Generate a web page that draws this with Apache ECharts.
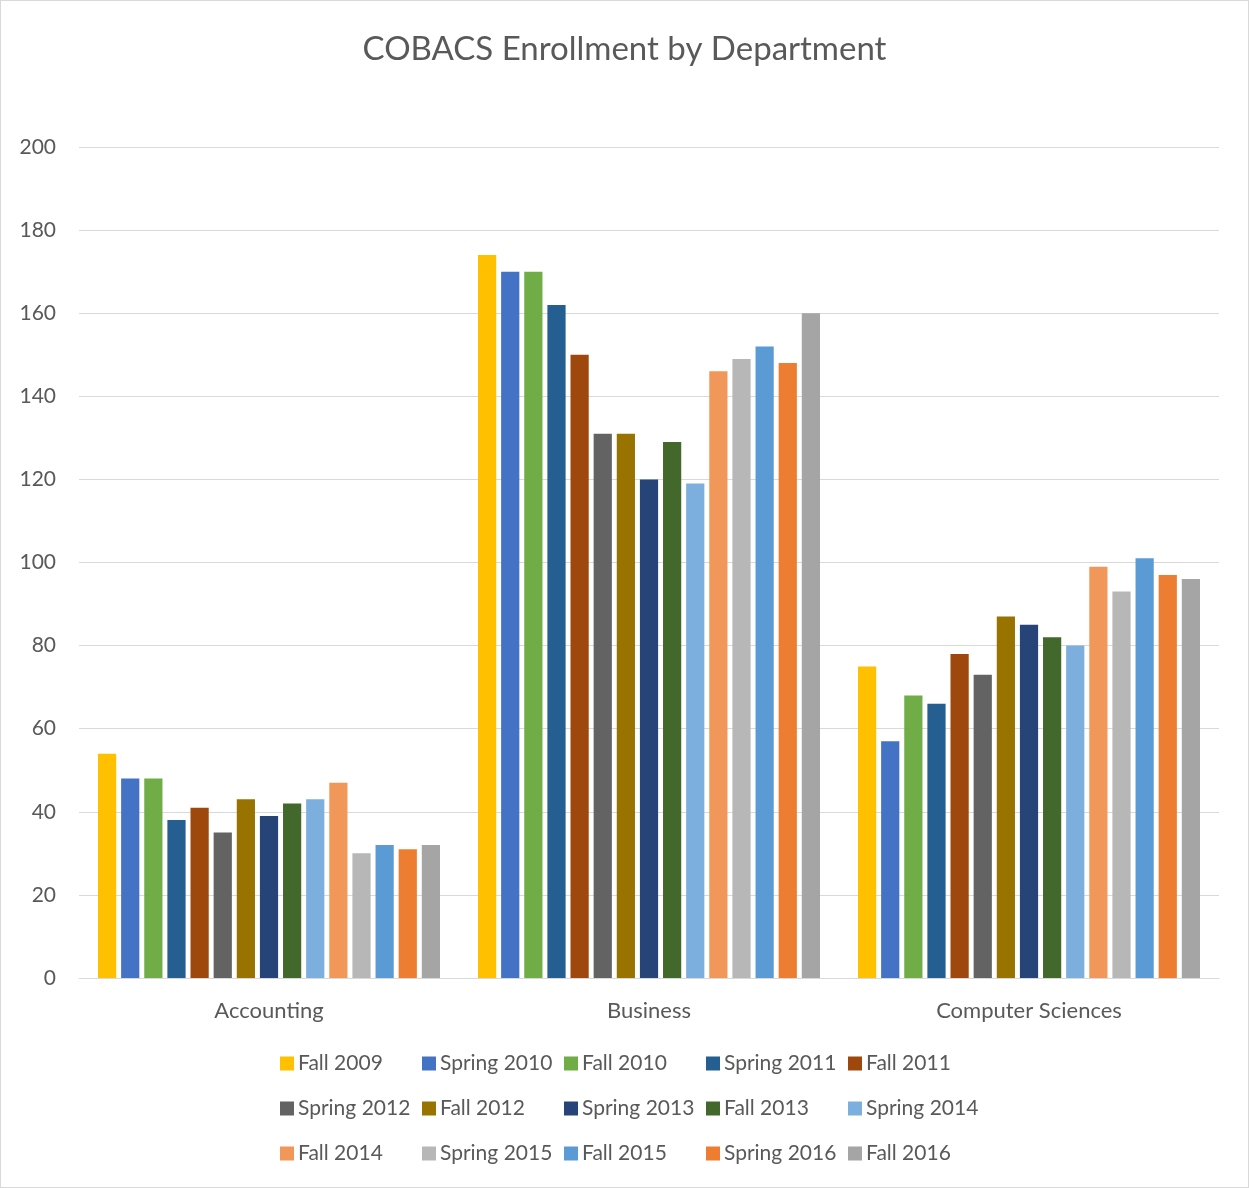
<!DOCTYPE html>
<html>
<head>
<meta charset="utf-8">
<title>COBACS Enrollment by Department</title>
<script src="https://cdn.jsdelivr.net/npm/echarts@6/dist/echarts.min.js"></script>
<style>
  html, body { margin: 0; padding: 0; background: #fff; }
  #chart { width: 1249px; height: 1188px; box-sizing: border-box; border: 1px solid #d9d9d9; }
</style>
</head>
<body>
<div id="chart"></div>
<script>
// departments on the x axis
const departments = ['Accounting', 'Business', 'Computer Sciences'];

// one list per term: [Accounting, Business, Computer Sciences]
const fall2009 = [54, 174, 75];
const spring2010 = [48, 170, 57];
const fall2010 = [48, 170, 68];
const spring2011 = [38, 162, 66];
const fall2011 = [41, 150, 78];
const spring2012 = [35, 131, 73];
const fall2012 = [43, 131, 87];
const spring2013 = [39, 120, 85];
const fall2013 = [42, 129, 82];
const spring2014 = [43, 119, 80];
const fall2014 = [47, 146, 99];
const spring2015 = [30, 149, 93];
const fall2015 = [32, 152, 101];
const spring2016 = [31, 148, 97];
const fall2016 = [32, 160, 96];

const terms = [
  ['Fall 2009', fall2009, '#FFC000'],
  ['Spring 2010', spring2010, '#4472C4'],
  ['Fall 2010', fall2010, '#70AD47'],
  ['Spring 2011', spring2011, '#255E91'],
  ['Fall 2011', fall2011, '#9E480E'],
  ['Spring 2012', spring2012, '#636363'],
  ['Fall 2012', fall2012, '#997300'],
  ['Spring 2013', spring2013, '#264478'],
  ['Fall 2013', fall2013, '#43682B'],
  ['Spring 2014', spring2014, '#7CAFDD'],
  ['Fall 2014', fall2014, '#F1975A'],
  ['Spring 2015', spring2015, '#B7B7B7'],
  ['Fall 2015', fall2015, '#5B9BD5'],
  ['Spring 2016', spring2016, '#ED7D31'],
  ['Fall 2016', fall2016, '#A5A5A5']
];

const yTicks = { min: 0, max: 200, interval: 20 };

const font = 'Lato, "Noto Sans", sans-serif';
const textColor = '#595959';

const myChart = echarts.init(document.getElementById('chart'));

// legend laid out as a 5-column grid, one small legend per entry
const legends = terms.map(([name], i) => ({
  data: [name],
  left: 279 + (i % 5) * 142,
  top: 1052 + Math.floor(i / 5) * 45,
  itemWidth: 14,
  itemHeight: 14,
  icon: 'rect',
  padding: 0,
  selectedMode: false,
  textStyle: {
    fontFamily: font,
    fontSize: 21,
    color: textColor,
    padding: [0, 0, 0, -1]
  }
}));

const option = {
  animation: false,
  backgroundColor: '#fff',
  title: {
    text: 'COBACS Enrollment by Department',
    left: 'center',
    top: 27,
    textStyle: {
      fontFamily: font,
      fontSize: 33,
      fontWeight: 'normal',
      color: textColor
    }
  },
  legend: legends,
  grid: {
    left: 78,
    right: 29,
    top: 146,
    bottom: 209
  },
  xAxis: {
    type: 'category',
    data: departments,
    axisLine: { lineStyle: { color: '#d9d9d9', width: 1 } },
    axisTick: { show: false },
    axisLabel: {
      margin: 22,
      fontFamily: font,
      fontSize: 22,
      color: textColor
    }
  },
  yAxis: {
    type: 'value',
    min: yTicks.min,
    max: yTicks.max,
    interval: yTicks.interval,
    axisLine: { show: false },
    axisTick: { show: false },
    splitLine: { lineStyle: { color: '#d9d9d9', width: 1 } },
    axisLabel: {
      margin: 23,
      fontFamily: font,
      fontSize: 21,
      color: textColor
    }
  },
  series: terms.map(([name, values, color]) => ({
    name: name,
    type: 'bar',
    data: values,
    barGap: '27%',
    barCategoryGap: '10%',
    itemStyle: { color: color }
  }))
};

myChart.setOption(option);
</script>
</body>
</html>
